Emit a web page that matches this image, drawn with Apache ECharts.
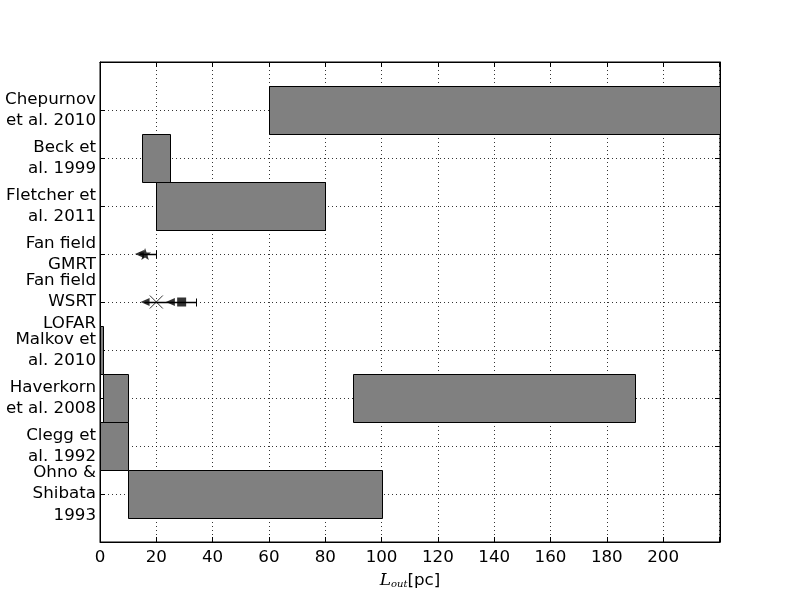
<!DOCTYPE html>
<html><head><meta charset="utf-8">
<script src="https://cdn.jsdelivr.net/npm/echarts@6/dist/echarts.min.js"></script>
<style>html,body{margin:0;padding:0;background:#fff}#c{width:804px;height:604px}</style>
</head><body><div id="c"></div>
<script>
// y-axis categories, from top (position 1) to bottom (position 9)
const categories = ['Chepurnov\net al. 2010','Beck et\nal. 1999','Fletcher et\nal. 2011','Fan field\nGMRT','Fan field\nWSRT\nLOFAR','Malkov et\nal. 2010','Haverkorn\net al. 2008','Clegg et\nal. 1992','Ohno &\nShibata\n1993'];
// bar ranges: row position, start, end (pc)
const barRows  = [1, 2, 3, 6, 7, 7, 8, 9];
const barStart = [60, 15, 20, 0, 1, 90, 0, 10];
const barEnd   = [230, 25, 80, 1, 10, 190, 10, 100];
// x tick labels
const xTickLabels = [0,20,40,60,80,100,120,140,160,180,200];
// error bars: row, low, high
const errRows = [4, 5];
const errLow  = [14, 16];
const errHigh = [20, 34];
// markers
const starX = [16];   const starRow = [4];
const triX  = [14, 16, 25]; const triRow = [4, 5, 5];
const crossX = [20];  const crossRow = [5];
const squareX = [29]; const squareRow = [5];

const bars = barRows.map((r,i)=>[r, barStart[i], barEnd[i]]);
const errs = errRows.map((r,i)=>[r, errLow[i], errHigh[i]]);

function starPath(){
  let p='path://';
  for(let k=0;k<10;k++){
    const a=-Math.PI/2+k*Math.PI/5, r=(k%2===0)?1:0.42;
    p+=(k===0?'M':'L')+(r*Math.cos(a)).toFixed(3)+','+(r*Math.sin(a)).toFixed(3);
  }
  return p+'Z';
}

const chart = echarts.init(document.getElementById('c'), null, {renderer:'canvas'});
const FONT='DejaVu Sans';
const FS=16.7;
const XMAX=220.2;
const tick={show:true,inside:true,length:5,lineStyle:{color:'#000',width:1}};
const line={show:true,onZero:false,lineStyle:{color:'#000',width:1}};
chart.setOption({
  animation:false,
  backgroundColor:'#fff',
  grid:{left:100,right:84,top:62,bottom:62,show:true,borderColor:'#000',borderWidth:1,backgroundColor:'transparent'},
  xAxis:[{
    type:'value',min:0,max:XMAX,interval:20,position:'bottom',
    axisLine:line, axisTick:tick,
    axisLabel:{color:'#000',fontFamily:FONT,fontSize:FS,margin:7,
      formatter:v=>xTickLabels.indexOf(v)>=0?String(v):''},
    splitLine:{show:true,lineStyle:{color:'#000',type:[1,3],width:0.8}},
    name:'{L|L}{s|out}{p|[pc]}',nameLocation:'middle',nameGap:27,
    nameTextStyle:{rich:{
      L:{fontFamily:'DejaVu Serif',fontStyle:'italic',fontSize:17,color:'#000',verticalAlign:'bottom',lineHeight:20},
      s:{fontFamily:'DejaVu Serif',fontStyle:'italic',fontSize:10,color:'#000',verticalAlign:'bottom',lineHeight:14},
      p:{fontFamily:FONT,fontSize:FS,color:'#000',verticalAlign:'bottom',lineHeight:20}
    }}
  },{
    type:'value',min:0,max:XMAX,interval:20,position:'top',
    axisLine:line, axisTick:tick,
    axisLabel:{show:false},splitLine:{show:false}
  }],
  yAxis:[{
    type:'value',min:0,max:10,interval:1,inverse:true,position:'left',
    axisLine:line, axisTick:tick,
    axisLabel:{color:'#000',fontFamily:FONT,fontSize:FS,lineHeight:21.5,margin:4,align:'right',
      padding:[12,0,0,0],
      formatter:v=>categories[v-1]||''},
    splitLine:{show:true,lineStyle:{color:'#000',type:[1,3],width:0.8}}
  },{
    type:'value',min:0,max:10,interval:1,inverse:true,position:'right',
    axisLine:line, axisTick:tick,
    axisLabel:{show:false},splitLine:{show:false}
  }],
  series:[
    {type:'custom',clip:true,data:bars,z:3,
      renderItem:(params,api)=>{
        const r=api.value(0), s=api.value(1), e=Math.min(api.value(2),XMAX);
        const p0=api.coord([s,r-0.5]), p1=api.coord([e,r+0.5]);
        const x=Math.round(p0[0])+0.5, y=Math.round(Math.min(p0[1],p1[1]))+0.5;
        const w=Math.round(p1[0])-Math.round(p0[0]), h=Math.round(Math.abs(p1[1]-p0[1]));
        return {type:'rect',shape:{x:x,y:y,width:w,height:h},
          style:{fill:'#808080',stroke:'#000',lineWidth:1}};
      }},
    {type:'custom',clip:true,data:errs,z:4,
      renderItem:(params,api)=>{
        const r=api.value(0);
        const a=api.coord([api.value(1),r]), b=api.coord([api.value(2),r]);
        const y=Math.round(a[1])+0.5, bx=Math.round(b[0])+0.5;
        return {type:'group',children:[
          {type:'line',shape:{x1:a[0],y1:y,x2:bx,y2:y},style:{stroke:'#000',lineWidth:1.5}},
          {type:'line',shape:{x1:bx,y1:y-4,x2:bx,y2:y+4},style:{stroke:'#000',lineWidth:1}}
        ]};
      }},
    {type:'scatter',data:triX.map((x,i)=>[x,triRow[i]]),symbol:'triangle',symbolRotate:90,symbolSize:[8,9],
      itemStyle:{color:'#000'},z:5},
    {type:'scatter',data:starX.map((x,i)=>[x,starRow[i]]),symbol:starPath(),symbolSize:12,
      itemStyle:{color:'#000'},z:5},
    {type:'scatter',data:crossX.map((x,i)=>[x,crossRow[i]]),symbol:'path://M0,0L10,10M10,0L0,10',symbolSize:13,
      itemStyle:{color:'none',borderColor:'#000',borderWidth:1},z:5},
    {type:'scatter',data:squareX.map((x,i)=>[x,squareRow[i]]),symbol:'rect',symbolSize:9,
      itemStyle:{color:'#000'},z:5}
  ]
});
</script></body></html>
